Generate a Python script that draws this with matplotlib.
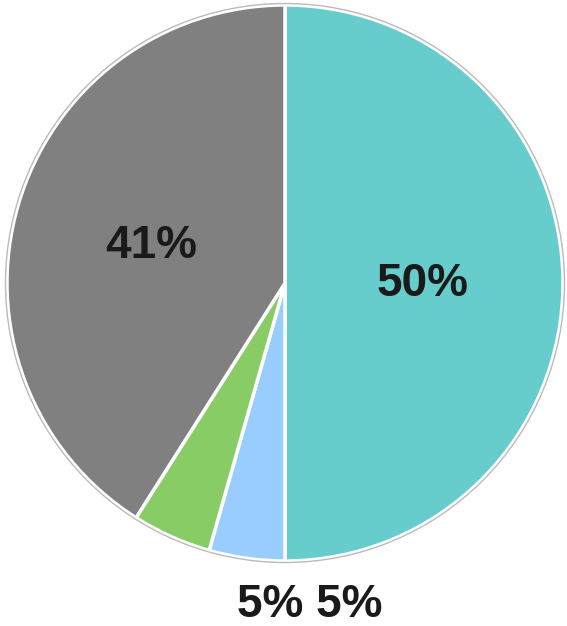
import matplotlib.pyplot as plt
from matplotlib.patches import Circle

# slice shares, clockwise from 12 o'clock
shares = [50, 4.4, 4.6, 41]
colours = ["#66CCCC", "#99CCFF", "#88CC66", "#808080"]
labels = ["50%", "5%", "5%", "41%"]

W, H = 567, 626
fig = plt.figure(figsize=(W / 100, H / 100), dpi=100)
ax = fig.add_axes([0, 0, 1, 1])

cx, cy, r = 285, H - 283, 278

ax.pie(shares, colors=colours, startangle=90, counterclock=False,
       center=(cx, cy), radius=r, frame=True,
       wedgeprops=dict(edgecolor="white", linewidth=2.5))
ax.add_patch(Circle((cx, cy), r + 1.5, fill=False, edgecolor="#BBBBBB", linewidth=1))
ax.set_xlim(0, W)
ax.set_ylim(0, H)
ax.set_aspect("equal")
ax.axis("off")

font = dict(fontsize=33, fontweight="bold", color="#1A1A1A", family="Liberation Sans",
            ha="center", va="center")
ax.text(423, H - 284, labels[0], **font)
ax.text(151, H - 246, labels[3], **font)
ax.text(310, H - 605, labels[1] + " " + labels[2], **font)

fig.savefig("out.png", dpi=100)
